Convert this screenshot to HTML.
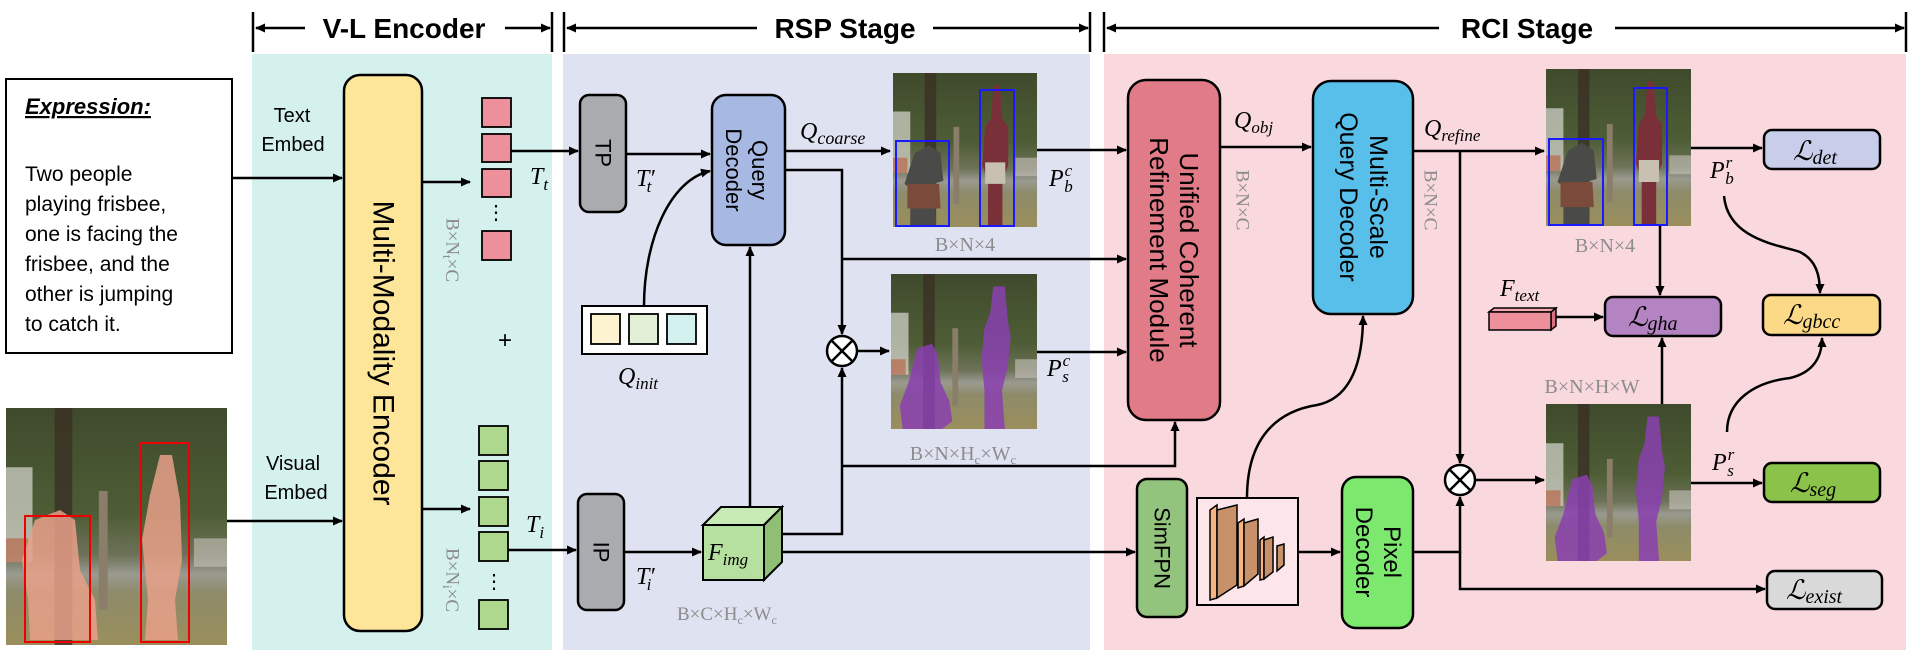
<!DOCTYPE html>
<html><head><meta charset="utf-8"><style>
html,body{margin:0;padding:0;background:#fff}
svg{display:block}
.s{font-family:"Liberation Sans",sans-serif}
.m{font-family:"Liberation Serif","DejaVu Serif",serif;font-style:italic}
.g{font-family:"Liberation Serif","DejaVu Serif",serif;fill:#8c8c8c}
</style></head><body>
<svg width="1912" height="650" viewBox="0 0 1912 650" xmlns="http://www.w3.org/2000/svg">
<defs>
<marker id="a" markerWidth="10" markerHeight="10" refX="9" refY="5" orient="auto" markerUnits="userSpaceOnUse"><path d="M0,0.5 L10,5 L0,9.5 Z" fill="#000"/></marker>
<linearGradient id="sky" x1="0" y1="0" x2="0" y2="1">
<stop offset="0" stop-color="#3f4a2c"/><stop offset="0.45" stop-color="#4e5d36"/><stop offset="0.62" stop-color="#6d7257"/><stop offset="0.7" stop-color="#9a9a90"/><stop offset="0.78" stop-color="#8e8b6a"/><stop offset="1" stop-color="#9a8f5c"/>
</linearGradient>
<symbol id="photo" viewBox="0 0 100 100" preserveAspectRatio="none">
<rect width="100" height="100" fill="url(#sky)"/>
<rect x="0" y="25" width="12" height="40" fill="#d8d8d0" opacity="0.7"/>
<rect x="22" y="0" width="8" height="100" fill="#3a2f24" opacity="0.8"/>
<rect x="42" y="35" width="4" height="50" fill="#8a7d6a"/>
<rect x="85" y="55" width="15" height="12" fill="#c9c5c0" opacity="0.6"/>
<rect x="0" y="55" width="10" height="10" fill="#b85a3a" opacity="0.6"/>
</symbol>
<symbol id="ppl" viewBox="0 0 100 100" preserveAspectRatio="none">
<path d="M15,52 L25,47 L33,52 L35,70 L28,72 L30,100 L12,100 L12,75 L8,72 Z" fill="#4a4a48"/>
<path d="M10,72 L32,72 L33,88 L10,88 Z" fill="#7a4a3a"/>
<path d="M70,8 L74,8 L76,30 L80,35 L80,60 L76,70 L76,100 L66,100 L66,70 L62,60 L64,35 L68,30 Z" fill="#7a3038"/>
<path d="M64,58 L78,58 L78,72 L64,72 Z" fill="#c8c0b0"/>
</symbol>
<symbol id="mask" viewBox="0 0 100 100" preserveAspectRatio="none">
<path d="M18,48 L28,45 L32,52 L34,70 L40,82 L42,95 L35,100 L8,100 L6,85 L12,70 Z" fill="#8a3fb0" opacity="0.85"/>
<path d="M70,8 L78,8 L80,30 L82,40 L80,60 L76,75 L78,100 L64,100 L64,75 L62,55 L64,35 L68,25 Z" fill="#8a3fb0" opacity="0.85"/>
</symbol>
</defs>

<!-- panels -->
<rect x="252" y="54" width="300" height="596" fill="#d4f1ee"/>
<rect x="563" y="54" width="527" height="596" fill="#dfe2f0"/>
<rect x="1104" y="54" width="802" height="596" fill="#f9d9de"/>

<!-- headers -->
<g stroke="#000" stroke-width="2.5" fill="none">
<line x1="253" y1="12" x2="253" y2="52"/><line x1="552" y1="12" x2="552" y2="52"/>
<line x1="564" y1="12" x2="564" y2="52"/><line x1="1090" y1="12" x2="1090" y2="52"/>
<line x1="1104" y1="12" x2="1104" y2="52"/><line x1="1906" y1="12" x2="1906" y2="52"/>
<line x1="305" y1="28" x2="256" y2="28" marker-end="url(#a)"/><line x1="505" y1="28" x2="550" y2="28" marker-end="url(#a)"/>
<line x1="757" y1="28" x2="567" y2="28" marker-end="url(#a)"/><line x1="933" y1="28" x2="1088" y2="28" marker-end="url(#a)"/>
<line x1="1439" y1="28" x2="1107" y2="28" marker-end="url(#a)"/><line x1="1615" y1="28" x2="1904" y2="28" marker-end="url(#a)"/>
</g>
<g class="s" font-weight="bold" font-size="28" text-anchor="middle">
<text x="404" y="38">V-L Encoder</text>
<text x="845" y="38">RSP Stage</text>
<text x="1527" y="38">RCI Stage</text>
</g>

<!-- expression box -->
<rect x="6" y="79" width="226" height="274" fill="#fff" stroke="#000" stroke-width="2"/>
<text x="25" y="114" class="s" font-size="22" font-weight="bold" font-style="italic" text-decoration="underline">Expression:</text>
<g class="s" font-size="21">
<text x="25" y="181">Two people</text>
<text x="25" y="211">playing frisbee,</text>
<text x="25" y="241">one is facing the</text>
<text x="25" y="271">frisbee, and the</text>
<text x="25" y="301">other is jumping</text>
<text x="25" y="331">to catch it.</text>
</g>

<!-- input image -->
<use href="#photo" x="6" y="408" width="221" height="237"/>
<g fill="#e8a088" opacity="0.85">
<path d="M35,520 L60,510 L75,520 L80,570 L95,600 L98,640 L30,640 L28,600 L22,560 Z"/>
<path d="M160,455 L172,455 L180,500 L182,560 L175,600 L178,640 L145,640 L148,600 L142,540 L150,495 Z"/>
</g>
<g fill="none" stroke="#e00" stroke-width="2">
<rect x="25" y="516" width="65" height="126"/>
<rect x="141" y="443" width="48" height="199"/>
</g>

<!-- labels text/visual embed -->
<g class="s" font-size="20" text-anchor="middle">
<text x="292" y="122">Text</text><text x="293" y="151">Embed</text>
<text x="293" y="470">Visual</text><text x="296" y="499">Embed</text>
</g>

<!-- MME -->
<rect x="344" y="75" width="78" height="556" rx="16" fill="#fde69a" stroke="#000" stroke-width="2.5"/>
<text class="s" font-size="30" text-anchor="middle" dominant-baseline="central" transform="translate(383,353) rotate(90)">Multi-Modality Encoder</text>

<g stroke="#000" stroke-width="2.5" fill="none">
<line x1="232" y1="178" x2="342" y2="178" marker-end="url(#a)"/>
<line x1="227" y1="521" x2="342" y2="521" marker-end="url(#a)"/>
<line x1="422" y1="182" x2="470" y2="182" marker-end="url(#a)"/>
<line x1="422" y1="509" x2="470" y2="509" marker-end="url(#a)"/>
</g>

<!-- token squares -->
<g fill="#ee909c" stroke="#000" stroke-width="1.8">
<rect x="482" y="98" width="29" height="29"/><rect x="482" y="134" width="29" height="28"/><rect x="482" y="169" width="29" height="28"/><rect x="482" y="231" width="29" height="29"/>
</g>
<g fill="#aed88e" stroke="#000" stroke-width="1.8">
<rect x="479" y="426" width="29" height="29"/><rect x="479" y="461" width="29" height="29"/><rect x="479" y="497" width="29" height="29"/><rect x="479" y="532" width="29" height="29"/><rect x="479" y="600" width="29" height="29"/>
</g>
<g class="s" font-size="20" text-anchor="middle">
<text x="496" y="219">⋮</text><text x="494" y="588">⋮</text>
<text x="505" y="348" font-size="24">+</text>
</g>
<text class="g" font-size="19" text-anchor="middle" dominant-baseline="central" transform="translate(452,250) rotate(90)">B×N<tspan font-size="13" dy="4">t</tspan><tspan dy="-4">×C</tspan></text>
<text class="g" font-size="19" text-anchor="middle" dominant-baseline="central" transform="translate(452,580) rotate(90)">B×N<tspan font-size="13" dy="4">i</tspan><tspan dy="-4">×C</tspan></text>
<text class="m" font-size="24" x="530" y="184">T<tspan font-size="17" dy="6">t</tspan></text>
<text class="m" font-size="24" x="526" y="532">T<tspan font-size="17" dy="6">i</tspan></text>

<!-- TP / IP -->
<rect x="580" y="95" width="46" height="117" rx="9" fill="#a9abaf" stroke="#000" stroke-width="2.5"/>
<text class="s" font-size="22" text-anchor="middle" dominant-baseline="central" transform="translate(603,153) rotate(90)">TP</text>
<rect x="578" y="494" width="46" height="116" rx="9" fill="#a9abaf" stroke="#000" stroke-width="2.5"/>
<text class="s" font-size="22" text-anchor="middle" dominant-baseline="central" transform="translate(601,552) rotate(90)">IP</text>

<!-- Query decoder -->
<rect x="712" y="95" width="73" height="150" rx="14" fill="#a7b8e3" stroke="#000" stroke-width="2.5"/>
<text class="s" font-size="22" text-anchor="middle" dominant-baseline="central" transform="translate(748,170) rotate(90)"><tspan x="0" dy="-12">Query</tspan><tspan x="0" dy="26">Decoder</tspan></text>

<!-- Qinit -->
<rect x="582" y="306" width="125" height="48" fill="#fff" stroke="#000" stroke-width="2"/>
<rect x="591" y="314" width="29" height="30" fill="#fdf3d0" stroke="#000" stroke-width="1.8"/>
<rect x="629" y="314" width="29" height="30" fill="#e2f0d7" stroke="#000" stroke-width="1.8"/>
<rect x="667" y="314" width="29" height="30" fill="#d3f1ee" stroke="#000" stroke-width="1.8"/>
<text class="m" font-size="24" x="618" y="384">Q<tspan font-size="17" dy="5">init</tspan></text>

<!-- Fimg cube -->
<polygon points="703,525 721,507 782,507 764,525" fill="#c8eab4" stroke="#000" stroke-width="2"/>
<polygon points="764,525 782,507 782,562 764,580" fill="#8fbf75" stroke="#000" stroke-width="2"/>
<rect x="703" y="525" width="61" height="55" fill="#b6e0a0" stroke="#000" stroke-width="2"/>
<text class="m" font-size="24" x="708" y="560">F<tspan font-size="17" dy="5">img</tspan></text>
<text class="g" font-size="19" x="677" y="620">B×C×H<tspan font-size="12" dy="4">c</tspan><tspan dy="-4">×W</tspan><tspan font-size="12" dy="4">c</tspan></text>

<!-- RSP connectors -->
<g stroke="#000" stroke-width="2.5" fill="none">
<line x1="511" y1="151" x2="578" y2="151" marker-end="url(#a)"/>
<line x1="508" y1="550" x2="576" y2="550" marker-end="url(#a)"/>
<line x1="626" y1="154" x2="710" y2="154" marker-end="url(#a)"/>
<line x1="624" y1="552" x2="701" y2="552" marker-end="url(#a)"/>
<path d="M644,306 C644,240 670,180 710,171" marker-end="url(#a)"/>
<line x1="750" y1="507" x2="750" y2="247" marker-end="url(#a)"/>
<line x1="785" y1="151" x2="890" y2="151" marker-end="url(#a)"/>
<polyline points="785,170 842,170 842,334" marker-end="url(#a)"/>
<line x1="842" y1="259" x2="1126" y2="259" marker-end="url(#a)"/>
<polyline points="782,534 842,534 842,368" marker-end="url(#a)"/>
<line x1="857" y1="351" x2="889" y2="351" marker-end="url(#a)"/>
<line x1="1037" y1="150" x2="1126" y2="150" marker-end="url(#a)"/>
<line x1="1037" y1="352" x2="1126" y2="352" marker-end="url(#a)"/>
<polyline points="842,466 1175,466 1175,422" marker-end="url(#a)"/>
<line x1="782" y1="552" x2="1135" y2="552" marker-end="url(#a)"/>
<circle cx="842" cy="351" r="15" fill="#fff"/>
<line x1="831" y1="340" x2="853" y2="362"/><line x1="853" y1="340" x2="831" y2="362"/>
</g>
<text class="m" font-size="24" x="636" y="186">T′<tspan font-size="17" dy="6" dx="-8">t</tspan></text>
<text class="m" font-size="24" x="636" y="584">T′<tspan font-size="17" dy="6" dx="-8">i</tspan></text>
<text class="m" font-size="24" x="800" y="139">Q<tspan font-size="18" dy="5">coarse</tspan></text>

<!-- RSP images -->
<use href="#photo" x="893" y="73" width="144" height="154"/>
<use href="#ppl" x="893" y="73" width="144" height="154"/>
<g fill="none" stroke="#1a1aff" stroke-width="2"><rect x="896" y="141" width="53" height="85"/><rect x="980" y="90" width="34" height="136"/></g>
<text class="g" font-size="20" text-anchor="middle" x="965" y="251">B×N×4</text>
<use href="#photo" x="891" y="274" width="146" height="155"/>
<use href="#mask" x="891" y="274" width="146" height="155"/>
<text class="g" font-size="20" text-anchor="middle" x="963" y="460">B×N×H<tspan font-size="13" dy="4">c</tspan><tspan dy="-4">×W</tspan><tspan font-size="13" dy="4">c</tspan></text>
<text class="m" font-size="24" x="1049" y="186">P<tspan font-size="17" dy="-10" dx="1">c</tspan><tspan font-size="17" dy="16" dx="-8">b</tspan></text>
<text class="m" font-size="24" x="1047" y="376">P<tspan font-size="17" dy="-10" dx="1">c</tspan><tspan font-size="17" dy="16" dx="-8">s</tspan></text>

<!-- UCRM -->
<rect x="1128" y="80" width="92" height="340" rx="18" fill="#e07b87" stroke="#000" stroke-width="2.5"/>
<text class="s" font-size="26" text-anchor="middle" dominant-baseline="central" transform="translate(1174,250) rotate(90)"><tspan x="0" dy="-15">Unified Coherent</tspan><tspan x="0" dy="30">Refinement Module</tspan></text>

<!-- SimFPN, backbone, pixel decoder -->
<rect x="1137" y="479" width="50" height="138" rx="10" fill="#93c47d" stroke="#000" stroke-width="2.5"/>
<text class="s" font-size="22" text-anchor="middle" dominant-baseline="central" transform="translate(1162,548) rotate(90)">SimFPN</text>
<rect x="1197" y="498" width="101" height="107" fill="#fce6e9" stroke="#000" stroke-width="2"/>
<g stroke="#000" stroke-width="1.5">
<polygon points="1210,510 1217,505 1217,598 1210,600" fill="#f5b583"/>
<polygon points="1217,510 1237,505 1237,585 1217,598" fill="#c8916a"/>
<polygon points="1238,523 1244,519 1244,586 1238,588" fill="#f5b583"/>
<polygon points="1244,523 1258,519 1258,574 1244,586" fill="#c8916a"/>
<polygon points="1260,540 1264,537 1264,579 1260,580" fill="#f5b583"/>
<polygon points="1264,540 1273,537 1273,572 1264,579" fill="#c8916a"/>
<polygon points="1277,546 1284,544 1284,565 1277,571" fill="#c8916a"/>
</g>
<rect x="1342" y="477" width="71" height="151" rx="14" fill="#7de86e" stroke="#000" stroke-width="2.5"/>
<text class="s" font-size="24" text-anchor="middle" dominant-baseline="central" transform="translate(1378,552) rotate(90)"><tspan x="0" dy="-14">Pixel</tspan><tspan x="0" dy="28">Decoder</tspan></text>

<!-- MSQD -->
<rect x="1313" y="81" width="100" height="233" rx="18" fill="#57bfe9" stroke="#000" stroke-width="2.5"/>
<text class="s" font-size="25" text-anchor="middle" dominant-baseline="central" transform="translate(1363,197) rotate(90)"><tspan x="0" dy="-15">Multi-Scale</tspan><tspan x="0" dy="30">Query Decoder</tspan></text>

<text class="m" font-size="24" x="1234" y="128">Q<tspan font-size="17" dy="5">obj</tspan></text>
<text class="g" font-size="19" text-anchor="middle" dominant-baseline="central" transform="translate(1242,200) rotate(90)">B×N×C</text>
<text class="m" font-size="24" x="1424" y="136">Q<tspan font-size="17" dy="5">refine</tspan></text>
<text class="g" font-size="19" text-anchor="middle" dominant-baseline="central" transform="translate(1430,200) rotate(90)">B×N×C</text>

<!-- RCI connectors -->
<g stroke="#000" stroke-width="2.5" fill="none">
<line x1="1220" y1="147" x2="1311" y2="147" marker-end="url(#a)"/>
<path d="M1247,498 C1247,430 1285,410 1317,405 C1352,398 1363,360 1363,316" marker-end="url(#a)"/>
<line x1="1298" y1="552" x2="1340" y2="552" marker-end="url(#a)"/>
<line x1="1413" y1="151" x2="1544" y2="151" marker-end="url(#a)"/>
<line x1="1460" y1="151" x2="1460" y2="463" marker-end="url(#a)"/>
<polyline points="1413,552 1460,552 1460,497" marker-end="url(#a)"/>
<polyline points="1460,552 1460,589 1765,589" marker-end="url(#a)"/>
<line x1="1475" y1="480" x2="1544" y2="480" marker-end="url(#a)"/>
<line x1="1691" y1="148" x2="1762" y2="148" marker-end="url(#a)"/>
<line x1="1660" y1="226" x2="1660" y2="295" marker-end="url(#a)"/>
<line x1="1556" y1="317" x2="1603" y2="317" marker-end="url(#a)"/>
<line x1="1662" y1="404" x2="1662" y2="338" marker-end="url(#a)"/>
<line x1="1691" y1="483" x2="1762" y2="483" marker-end="url(#a)"/>
<path d="M1724,196 C1728,240 1780,245 1800,252 C1816,260 1820,275 1820,293" marker-end="url(#a)"/>
<path d="M1727,432 C1727,400 1755,382 1790,378 C1815,372 1822,355 1822,338" marker-end="url(#a)"/>
<circle cx="1460" cy="480" r="15" fill="#fff"/>
<line x1="1449" y1="469" x2="1471" y2="491"/><line x1="1471" y1="469" x2="1449" y2="491"/>
</g>

<!-- RCI images -->
<use href="#photo" x="1546" y="69" width="145" height="157"/>
<use href="#ppl" x="1546" y="69" width="145" height="157"/>
<g fill="none" stroke="#1a1aff" stroke-width="2"><rect x="1549" y="139" width="54" height="86"/><rect x="1634" y="88" width="33" height="137"/></g>
<text class="g" font-size="20" text-anchor="middle" x="1605" y="252">B×N×4</text>
<use href="#photo" x="1546" y="404" width="145" height="157"/>
<use href="#mask" x="1546" y="404" width="145" height="157"/>
<text class="g" font-size="20" text-anchor="middle" x="1592" y="393">B×N×H×W</text>
<text class="m" font-size="24" x="1710" y="178">P<tspan font-size="17" dy="-10" dx="1">r</tspan><tspan font-size="17" dy="16" dx="-7">b</tspan></text>
<text class="m" font-size="24" x="1712" y="470">P<tspan font-size="17" dy="-10" dx="1">r</tspan><tspan font-size="17" dy="16" dx="-7">s</tspan></text>

<!-- F_text -->
<polygon points="1489,312 1494,308 1556,308 1551,312" fill="#f5a7b0" stroke="#000" stroke-width="1.5"/>
<polygon points="1551,312 1556,308 1556,326 1551,330" fill="#d87080" stroke="#000" stroke-width="1.5"/>
<rect x="1489" y="312" width="62" height="18" fill="#ee909c" stroke="#000" stroke-width="1.5"/>
<text class="m" font-size="24" x="1500" y="296">F<tspan font-size="17" dy="5">text</tspan></text>

<!-- losses -->
<g stroke="#000" stroke-width="2.5">
<rect x="1764" y="130" width="116" height="39" rx="8" fill="#c8cdea"/>
<rect x="1605" y="297" width="116" height="39" rx="8" fill="#b383c2"/>
<rect x="1763" y="295" width="117" height="40" rx="8" fill="#fcd987"/>
<rect x="1764" y="463" width="116" height="39" rx="8" fill="#8bc34a"/>
<rect x="1767" y="571" width="115" height="38" rx="8" fill="#d9d9d9"/>
</g>
<g class="m" font-size="27">
<text x="1793" y="160">ℒ<tspan font-size="20" dy="4">det</tspan></text>
<text x="1628" y="326">ℒ<tspan font-size="20" dy="4">gha</tspan></text>
<text x="1783" y="324">ℒ<tspan font-size="20" dy="4">gbcc</tspan></text>
<text x="1790" y="492">ℒ<tspan font-size="20" dy="4">seg</tspan></text>
<text x="1786" y="599">ℒ<tspan font-size="20" dy="4">exist</tspan></text>
</g>
</svg>
</body></html>
